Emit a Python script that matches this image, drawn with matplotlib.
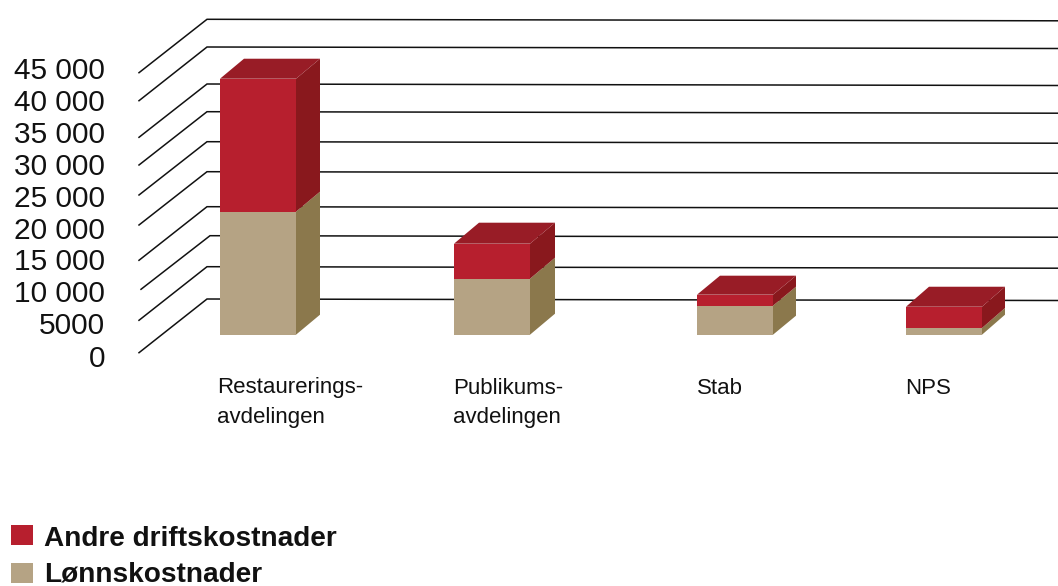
"""Pseudo-3D stacked bars of cost per department, drawn on a full-figure axes."""

import matplotlib

matplotlib.use("Agg")
import matplotlib.pyplot as plt
from matplotlib.patches import Rectangle

plt.rcParams["font.family"] = ["Liberation Sans", "DejaVu Sans"]

CATEGORIES = ["Restaurerings-\navdelingen", "Publikums-\navdelingen", "Stab", "NPS"]
LONN = [19770, 9000, 4660, 1075]
ANDRE = [21370, 5625, 1770, 3420]
TICK_LABELS = ["0", "5000", "10 000", "15 000", "20 000", "25 000", "30 000", "35 000", "40 000", "45 000"]

# layout in pixels of the 1058x586 picture
W, H = 1058, 586
ZERO_PX = 352.7
PX_PER_UNIT = 280 / 45000
BASE_PX = 334.7
BAR_LEFT = [220, 454, 697, 906]
LABEL_X = [217, 453, 697, 905]
BAR_WIDTH = 76
BAR_DX = [24, 25, 23, 23]
BAR_DY = [20, 21, 19, 20]
TICK_Y_PX = [359, 326, 294, 262, 231, 199, 167, 135, 103, 71]
GRID_FRONT_PX = [352.7, 320.3, 289.3, 260.3, 225, 195, 165, 137.3, 100.7, 72.7]
GRID_BACK_PX = [299, 266.7, 235.7, 206.7, 171.7, 141.7, 111.7, 84, 47, 19.3]
GRID_FRONT_X = [139, 139, 141, 139, 139, 139, 139, 139, 139, 139]
GRID_BACK_X = [207, 207, 210, 207, 207, 207, 207, 207, 207, 207]

RED = "#b71f2e"
RED_TOP = "#981c26"
RED_SIDE = "#89181d"
TAN = "#b5a384"
TAN_SIDE = "#8b784c"
INK = "#111111"


def val(py):
    """Pixel row to chart value."""
    return (ZERO_PX - py) / PX_PER_UNIT


def main():
    fig = plt.figure(figsize=(W / 100, H / 100), dpi=100)
    ax = fig.add_axes([0, 0, 1, 1])
    ax.set_xlim(0, W)
    ax.set_ylim(val(H), val(0))
    ax.axis("off")

    for fx, bx, fy, by in zip(GRID_FRONT_X, GRID_BACK_X, GRID_FRONT_PX, GRID_BACK_PX):
        ax.plot([fx, bx, W], [val(fy), val(by), val(by + 1.5)], color="#111111", lw=1.1, zorder=1,
                solid_joinstyle="miter")

    base = val(BASE_PX)
    for i, left in enumerate(BAR_LEFT):
        right = left + BAR_WIDTH
        dx = BAR_DX[i]
        dv = BAR_DY[i] / PX_PER_UNIT
        tan_top = base + LONN[i]
        red_top = tan_top + ANDRE[i]

        ax.bar(left, LONN[i], BAR_WIDTH, bottom=base, align="edge", color=TAN, zorder=3)
        ax.bar(left, ANDRE[i], BAR_WIDTH, bottom=tan_top, align="edge", color=RED, zorder=3)
        ax.fill([right, right + dx, right + dx, right],
                [base, base + dv, tan_top + dv, tan_top], color=TAN_SIDE, lw=0, zorder=3)
        ax.fill([right, right + dx, right + dx, right],
                [tan_top, tan_top + dv, red_top + dv, red_top], color=RED_SIDE, lw=0, zorder=3)
        ax.fill([left, left + dx, right + dx, right],
                [red_top, red_top + dv, red_top + dv, red_top], color=RED_TOP, lw=0, zorder=3)

        ax.text(LABEL_X[i], val(377.5), CATEGORIES[i], ha="left", va="top", fontsize=16,
                color=INK, linespacing=1.55)

    for label, py in zip(TICK_LABELS, TICK_Y_PX):
        ax.text(105, val(py), label, ha="right", va="center", fontsize=21.5, color=INK)

    legend = [("Andre driftskostnader", RED, 525, 538.5), ("Lønnskostnader", TAN, 562.7, 574)]
    for name, color, top, mid in legend:
        ax.add_patch(Rectangle((11, val(top + 20)), 22, 20 / PX_PER_UNIT, color=color, lw=0))
        ax.text(44, val(mid), name, ha="left", va="center", fontsize=20.2, color=INK, fontweight="bold")

    fig.savefig("out.png", dpi=100)


if __name__ == "__main__":
    main()
